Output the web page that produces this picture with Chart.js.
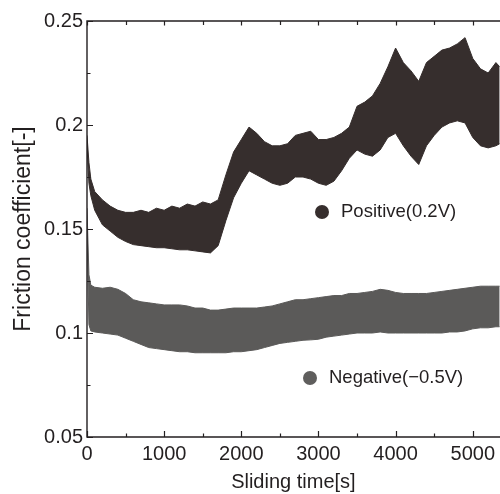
<!DOCTYPE html>
<html><head><meta charset="utf-8">
<script src="https://cdn.jsdelivr.net/npm/chart.js@4.4.1/dist/chart.umd.min.js"></script>
<style>html,body{margin:0;padding:0;background:#fff;overflow:hidden}</style>
</head><body>
<canvas id="c" width="500" height="494"></canvas>
<script>
// Sliding time [s]
const time = [0,25,50,100,200,300,400,500,600,700,800,900,1000,1100,1200,1300,1400,1500,1600,1700,1800,1900,2000,2100,2200,2300,2400,2500,2600,2700,2800,2900,3000,3100,3200,3300,3400,3500,3600,3700,3800,3900,4000,4100,4200,4300,4400,4500,4600,4700,4800,4900,5000,5100,5200,5300,5350];
// Positive (0.2V): upper / lower envelope of friction coefficient
const posUpper = [0.195,0.182,0.174,0.168,0.164,0.161,0.159,0.158,0.158,0.159,0.158,0.160,0.159,0.161,0.160,0.162,0.161,0.163,0.162,0.164,0.176,0.187,0.193,0.199,0.196,0.192,0.190,0.190,0.191,0.195,0.196,0.197,0.193,0.193,0.194,0.196,0.199,0.209,0.211,0.214,0.220,0.228,0.237,0.230,0.226,0.221,0.230,0.233,0.236,0.237,0.239,0.242,0.232,0.227,0.225,0.230,0.228];
const posLower = [0.190,0.172,0.166,0.159,0.152,0.149,0.146,0.144,0.1425,0.142,0.1415,0.141,0.141,0.1405,0.140,0.140,0.1395,0.139,0.1385,0.142,0.154,0.165,0.172,0.178,0.176,0.174,0.172,0.171,0.172,0.175,0.175,0.174,0.172,0.171,0.173,0.178,0.184,0.188,0.186,0.185,0.188,0.194,0.196,0.190,0.185,0.181,0.190,0.195,0.199,0.201,0.202,0.201,0.194,0.190,0.189,0.190,0.191];
// Negative (-0.5V): upper / lower envelope
const negUpper = [0.160,0.128,0.123,0.122,0.1215,0.122,0.121,0.119,0.116,0.115,0.1145,0.114,0.1135,0.1135,0.1135,0.113,0.112,0.112,0.111,0.111,0.1115,0.112,0.112,0.112,0.112,0.1125,0.113,0.114,0.115,0.116,0.116,0.1165,0.117,0.1175,0.118,0.118,0.119,0.119,0.1195,0.120,0.121,0.1205,0.1195,0.119,0.119,0.119,0.119,0.1195,0.120,0.1205,0.121,0.1215,0.122,0.1225,0.1225,0.1225,0.1225];
const negLower = [0.150,0.104,0.101,0.1005,0.100,0.0995,0.099,0.0975,0.096,0.0945,0.093,0.0925,0.092,0.0915,0.091,0.091,0.0905,0.0905,0.0905,0.0905,0.0905,0.091,0.091,0.0915,0.092,0.093,0.094,0.095,0.0955,0.096,0.0965,0.0967,0.097,0.098,0.0985,0.099,0.0995,0.100,0.100,0.100,0.1005,0.100,0.100,0.100,0.100,0.100,0.100,0.100,0.100,0.1005,0.1005,0.101,0.102,0.1025,0.1025,0.103,0.103];
const xTicks = [0,1000,2000,3000,4000,5000];
const xTickLabels = ['0','1000','2000','3000','4000','5000'];
const yTicks = [0.05,0.1,0.15,0.2,0.25];
const yTickLabels = ['0.05','0.1','0.15','0.2','0.25'];
const legendLabels = ['Positive(0.2V)','Negative(\u22120.5V)'];

const DARK = '#362e2d', GRAY = '#5b5a59', INK = '#231f20';
const FONT = '"Liberation Sans", Arial, sans-serif';
const pts = arr => arr.map((v,i)=>({x:time[i], y:v}));
const band = (data, color, fill) => ({data: pts(data), borderColor: color, backgroundColor: color, borderWidth: 1, pointRadius: 0, tension: 0, fill: fill});
const labelFor = (ticks, labels, v) => labels[ticks.findIndex(t => Math.abs(t - v) < 1e-9)];

const frame = {
  id: 'frame',
  afterDatasetsDraw(chart) {
    const {ctx, chartArea: a, scales: {x, y}} = chart;
    ctx.save();
    ctx.strokeStyle = INK; ctx.lineWidth = 1.4;
    ctx.beginPath();
    ctx.moveTo(a.right + 5, a.top); ctx.lineTo(a.left, a.top);
    ctx.lineTo(a.left, a.bottom); ctx.lineTo(a.right + 5, a.bottom);
    ctx.stroke();
    ctx.lineWidth = 1.2;
    ctx.beginPath();
    for (let v = 0; v <= x.max; v += 500) {
      const px = Math.round(x.getPixelForValue(v)) + 0.5;
      const major = v % 1000 === 0;
      ctx.moveTo(px, a.bottom); ctx.lineTo(px, a.bottom - (major ? 6 : 3.5));
      ctx.moveTo(px, a.top); ctx.lineTo(px, a.top + (major ? 4.5 : 4));
    }
    for (let k = 0; k <= 8; k++) {
      const v = 0.05 + k * 0.025;
      const py = Math.round(y.getPixelForValue(v)) + 0.5;
      ctx.moveTo(a.left, py); ctx.lineTo(a.left + (k % 2 === 0 ? 6 : 3.5), py);
    }
    ctx.stroke();
    // in-plot labels
    ctx.font = '18.5px ' + FONT;
    ctx.textBaseline = 'middle'; ctx.textAlign = 'left';
    ctx.fillStyle = DARK;
    ctx.beginPath(); ctx.arc(a.left + 235, 212, 7, 0, Math.PI * 2); ctx.fill();
    ctx.fillStyle = INK; ctx.fillText(legendLabels[0], a.left + 254, 212);
    ctx.fillStyle = '#5f5e5d';
    ctx.beginPath(); ctx.arc(a.left + 223, 378, 7, 0, Math.PI * 2); ctx.fill();
    ctx.fillStyle = INK; ctx.fillText(legendLabels[1], a.left + 242, 378);
    ctx.restore();
  }
};

new Chart(document.getElementById('c'), {
  type: 'line',
  data: { datasets: [
    band(posUpper, DARK, false),
    band(posLower, DARK, '-1'),
    band(negUpper, GRAY, false),
    band(negLower, GRAY, '-1')
  ]},
  options: {
    responsive: false, animation: false, devicePixelRatio: 1,
    layout: { padding: { top: 21, right: 0, left: 0, bottom: 0 } },
    plugins: { legend: { display: false }, tooltip: { enabled: false } },
    scales: {
      x: {
        type: 'linear', min: 0, max: 5350,
        afterBuildTicks: s => { s.ticks = xTicks.map(v => ({value: v})); },
        afterFit: s => { s.height = 57; },
        grid: { display: false, drawTicks: false }, border: { display: false },
        ticks: { color: INK, padding: 5, maxRotation: 0, callback: v => labelFor(xTicks, xTickLabels, v), font: { family: FONT, size: 20 } },
        title: { display: true, text: 'Sliding time[s]', color: INK, padding: { top: -2, bottom: 0 }, font: { family: FONT, size: 20, lineHeight: 1.2 } }
      },
      y: {
        type: 'linear', min: 0.05, max: 0.25,
        afterBuildTicks: s => { s.ticks = yTicks.map(v => ({value: v})); },
        afterFit: s => { s.width = 87; },
        grid: { display: false, drawTicks: false }, border: { display: false },
        ticks: { color: INK, padding: 4, callback: v => labelFor(yTicks, yTickLabels, v), font: { family: FONT, size: 20 } },
        title: { display: true, text: 'Friction coefficient[-]', color: INK, padding: { top: 10, bottom: 0 }, font: { family: FONT, size: 23, lineHeight: 1.2 } }
      }
    }
  },
  plugins: [frame]
});
</script>
</body></html>
